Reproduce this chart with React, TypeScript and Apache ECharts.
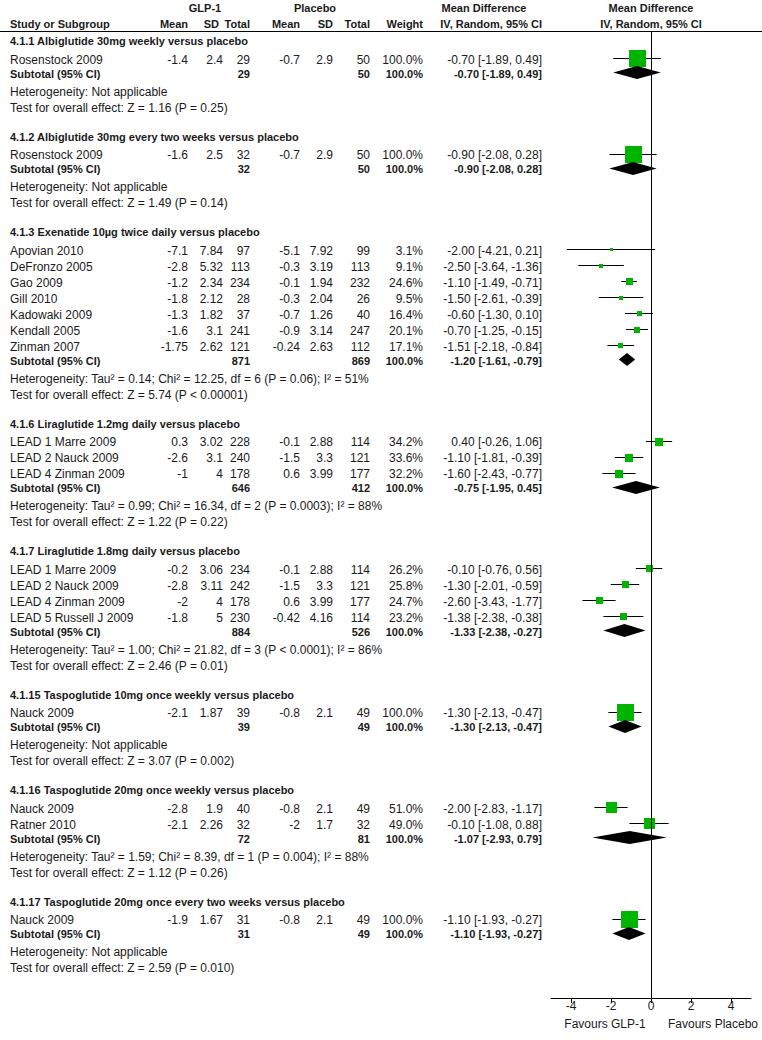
import React, { useEffect, useRef } from "react";
import * as echarts from "echarts";

const groupTitles = [
  "4.1.1 Albiglutide 30mg weekly versus placebo",
  "4.1.2 Albiglutide 30mg every two weeks versus placebo",
  "4.1.3 Exenatide 10µg twice daily versus placebo",
  "4.1.6 Liraglutide 1.2mg daily versus placebo",
  "4.1.7 Liraglutide 1.8mg daily versus placebo",
  "4.1.15 Taspoglutide 10mg once weekly versus placebo",
  "4.1.16 Taspoglutide 20mg once weekly versus placebo",
  "4.1.17 Taspoglutide 20mg once every two weeks versus placebo",
];
const hetTexts = [
  "Heterogeneity: Not applicable",
  "Heterogeneity: Not applicable",
  "Heterogeneity: Tau² = 0.14; Chi² = 12.25, df = 6 (P = 0.06); I² = 51%",
  "Heterogeneity: Tau² = 0.99; Chi² = 16.34, df = 2 (P = 0.0003); I² = 88%",
  "Heterogeneity: Tau² = 1.00; Chi² = 21.82, df = 3 (P < 0.0001); I² = 86%",
  "Heterogeneity: Not applicable",
  "Heterogeneity: Tau² = 1.59; Chi² = 8.39, df = 1 (P = 0.004); I² = 88%",
  "Heterogeneity: Not applicable",
];
const effectTexts = [
  "Test for overall effect: Z = 1.16 (P = 0.25)",
  "Test for overall effect: Z = 1.49 (P = 0.14)",
  "Test for overall effect: Z = 5.74 (P < 0.00001)",
  "Test for overall effect: Z = 1.22 (P = 0.22)",
  "Test for overall effect: Z = 2.46 (P = 0.01)",
  "Test for overall effect: Z = 3.07 (P = 0.002)",
  "Test for overall effect: Z = 1.12 (P = 0.26)",
  "Test for overall effect: Z = 2.59 (P = 0.010)",
];
const studyGroup = [0, 1, 2, 2, 2, 2, 2, 2, 2, 3, 3, 3, 4, 4, 4, 4, 5, 6, 6, 7];
const studyNames = [
  "Rosenstock 2009", "Rosenstock 2009", "Apovian 2010", "DeFronzo 2005", "Gao 2009", "Gill 2010",
  "Kadowaki 2009", "Kendall 2005", "Zinman 2007", "LEAD 1 Marre 2009", "LEAD 2 Nauck 2009",
  "LEAD 4 Zinman 2009", "LEAD 1 Marre 2009", "LEAD 2 Nauck 2009", "LEAD 4 Zinman 2009",
  "LEAD 5 Russell J 2009", "Nauck 2009", "Nauck 2009", "Ratner 2010", "Nauck 2009",
];
const glpMean = [-1.4, -1.6, -7.1, -2.8, -1.2, -1.8, -1.3, -1.6, -1.75, 0.3, -2.6, -1, -0.2, -2.8, -2, -1.8, -2.1, -2.8, -2.1, -1.9];
const glpSD = [2.4, 2.5, 7.84, 5.32, 2.34, 2.12, 1.82, 3.1, 2.62, 3.02, 3.1, 4, 3.06, 3.11, 4, 5, 1.87, 1.9, 2.26, 1.67];
const glpN = [29, 32, 97, 113, 234, 28, 37, 241, 121, 228, 240, 178, 234, 242, 178, 230, 39, 40, 32, 31];
const plaMean = [-0.7, -0.7, -5.1, -0.3, -0.1, -0.3, -0.7, -0.9, -0.24, -0.1, -1.5, 0.6, -0.1, -1.5, 0.6, -0.42, -0.8, -0.8, -2, -0.8];
const plaSD = [2.9, 2.9, 7.92, 3.19, 1.94, 2.04, 1.26, 3.14, 2.63, 2.88, 3.3, 3.99, 2.88, 3.3, 3.99, 4.16, 2.1, 2.1, 1.7, 2.1];
const plaN = [50, 50, 99, 113, 232, 26, 40, 247, 112, 114, 121, 177, 114, 121, 177, 114, 49, 49, 32, 49];
const studyWeight = [100, 100, 3.1, 9.1, 24.6, 9.5, 16.4, 20.1, 17.1, 34.2, 33.6, 32.2, 26.2, 25.8, 24.7, 23.2, 100, 51, 49, 100];
const studyMD = [-0.7, -0.9, -2, -2.5, -1.1, -1.5, -0.6, -0.7, -1.51, 0.4, -1.1, -1.6, -0.1, -1.3, -2.6, -1.38, -1.3, -2, -0.1, -1.1];
const studyLow = [-1.89, -2.08, -4.21, -3.64, -1.49, -2.61, -1.3, -1.25, -2.18, -0.26, -1.81, -2.43, -0.76, -2.01, -3.43, -2.38, -2.13, -2.83, -1.08, -1.93];
const studyHigh = [0.49, 0.28, 0.21, -1.36, -0.71, -0.39, 0.1, -0.15, -0.84, 1.06, -0.39, -0.77, 0.56, -0.59, -1.77, -0.38, -0.47, -1.17, 0.88, -0.27];
const subGlpN = [29, 32, 871, 646, 884, 39, 72, 31];
const subPlaN = [50, 50, 869, 412, 526, 49, 81, 49];
const subMD = [-0.7, -0.9, -1.2, -0.75, -1.33, -1.3, -1.07, -1.1];
const subLow = [-1.89, -2.08, -1.61, -1.95, -2.38, -2.13, -2.93, -1.93];
const subHigh = [0.49, 0.28, -0.79, 0.45, -0.27, -0.47, 0.79, -0.27];
const xTicks = [-4, -2, 0, 2, 4];

const FONT = "'Liberation Sans', Arial, sans-serif";
const REG = `12px ${FONT}`;
const BOLD = `bold 11px ${FONT}`;
const TXT = "#1a1a1a";
const GREEN = "#00B400";

function fmt2(v: number) {
  return v.toFixed(2);
}
function ciText(m: number, lo: number, hi: number) {
  return `${fmt2(m)} [${fmt2(lo)}, ${fmt2(hi)}]`;
}

function text(t: string, x: number, y: number, align: string, bold = false) {
  return {
    type: "text",
    x,
    y,
    silent: true,
    style: {
      text: t,
      font: bold ? BOLD : REG,
      fill: TXT,
      align,
      textAlign: align,
      verticalAlign: "middle",
      textVerticalAlign: "middle",
    },
  };
}

export default function App() {
  const ref = useRef<HTMLDivElement>(null);
  useEffect(() => {
    const chart = echarts.init(ref.current!, null, { renderer: "svg" });

    // layout of rows
    const H0 = 41, H2S = 18.5, S2S = 16, S2SUB = 14, SUB2HET = 18, HET2TEST = 16, TEST2HEAD = 29;
    const studyY: number[] = [];
    const headY: number[] = [];
    const subY: number[] = [];
    const hetY: number[] = [];
    const testY: number[] = [];
    let y = H0;
    for (let g = 0; g < groupTitles.length; g++) {
      headY.push(y);
      let sy = y + H2S;
      let last = sy;
      studyGroup.forEach((gg, i) => {
        if (gg === g) {
          studyY[i] = sy;
          last = sy;
          sy += S2S;
        }
      });
      const s = last + S2SUB;
      subY.push(s);
      hetY.push(s + SUB2HET);
      testY.push(s + SUB2HET + HET2TEST);
      y = s + SUB2HET + HET2TEST + TEST2HEAD;
    }
    const crisp = (v: number) => Math.floor(v) + 0.5;

    const colRight = { gm: 188, gs: 223, gn: 250, pm: 300, ps: 333, pn: 370, w: 423, ci: 542 };
    const graphics: any[] = [];
    // headers
    graphics.push(text("GLP-1", 205, 8, "center", true));
    graphics.push(text("Placebo", 315, 8, "center", true));
    graphics.push(text("Mean Difference", 484, 8, "center", true));
    graphics.push(text("Mean Difference", 651, 8, "center", true));
    graphics.push(text("Study or Subgroup", 10, 24, "left", true));
    graphics.push(text("Mean", colRight.gm, 24, "right", true));
    graphics.push(text("SD", 219, 24, "right", true));
    graphics.push(text("Total", colRight.gn, 24, "right", true));
    graphics.push(text("Mean", colRight.pm, 24, "right", true));
    graphics.push(text("SD", colRight.ps, 24, "right", true));
    graphics.push(text("Total", colRight.pn, 24, "right", true));
    graphics.push(text("Weight", colRight.w, 24, "right", true));
    graphics.push(text("IV, Random, 95% CI", colRight.ci, 24, "right", true));
    graphics.push(text("IV, Random, 95% CI", 651, 24, "center", true));
    graphics.push({
      type: "line",
      silent: true,
      shape: { x1: 0, y1: 31.5, x2: 762, y2: 31.5 },
      style: { stroke: "#000", lineWidth: 1 },
    });

    for (let g = 0; g < groupTitles.length; g++) {
      graphics.push(text(groupTitles[g], 10, headY[g], "left", true));
      graphics.push(text("Subtotal (95% CI)", 10, subY[g], "left", true));
      graphics.push(text(String(subGlpN[g]), colRight.gn, subY[g], "right", true));
      graphics.push(text(String(subPlaN[g]), colRight.pn, subY[g], "right", true));
      graphics.push(text("100.0%", colRight.w, subY[g], "right", true));
      graphics.push(text(ciText(subMD[g], subLow[g], subHigh[g]), colRight.ci, subY[g], "right", true));
      graphics.push(text(hetTexts[g], 10, hetY[g], "left"));
      graphics.push(text(effectTexts[g], 10, testY[g], "left"));
    }
    studyNames.forEach((n, i) => {
      const yy = studyY[i];
      graphics.push(text(n, 10, yy, "left"));
      graphics.push(text(String(glpMean[i]), colRight.gm, yy, "right"));
      graphics.push(text(String(glpSD[i]), colRight.gs, yy, "right"));
      graphics.push(text(String(glpN[i]), colRight.gn, yy, "right"));
      graphics.push(text(String(plaMean[i]), colRight.pm, yy, "right"));
      graphics.push(text(String(plaSD[i]), colRight.ps, yy, "right"));
      graphics.push(text(String(plaN[i]), colRight.pn, yy, "right"));
      graphics.push(text(studyWeight[i].toFixed(1) + "%", colRight.w, yy, "right"));
      graphics.push(text(ciText(studyMD[i], studyLow[i], studyHigh[i]), colRight.ci, yy, "right"));
    });
    graphics.push(text("Favours GLP-1", 605, 1024, "center"));
    graphics.push(text("Favours Placebo", 713, 1024, "center"));

    const studyData = studyNames.map((_, i) => [
      studyLow[i],
      studyHigh[i],
      studyMD[i],
      crisp(studyY[i] - 1),
      Math.max(3, Math.round(17 * Math.pow(studyWeight[i] / 100, 0.65))),
    ]);
    const subData = groupTitles.map((_, g) => [subLow[g], subHigh[g], subMD[g], crisp(subY[g] - 1)]);

    const option: any = {
      animation: false,
      backgroundColor: "#fff",
      grid: { left: 551, right: 11, top: 32, bottom: 42 },
      xAxis: {
        type: "value",
        min: -5,
        max: 5,
        axisLine: { show: true, lineStyle: { color: "#000", width: 1 } },
        axisTick: { show: true, length: 5, lineStyle: { color: "#000" }, customValues: xTicks },
        axisLabel: { show: true, customValues: xTicks, color: TXT, fontSize: 12, fontFamily: FONT, margin: 2 },
        splitLine: { show: false },
      },
      yAxis: {
        type: "value",
        min: 32,
        max: 998,
        inverse: true,
        show: false,
        splitLine: { show: false },
      },
      series: [
        {
          type: "custom",
          encode: { x: [0, 1, 2], y: 3 },
          data: studyData,
          z: 3,
          renderItem: (_p: any, api: any) => {
            const yv = api.value(3);
            const lo = api.coord([api.value(0), yv]);
            const hi = api.coord([api.value(1), yv]);
            const c = api.coord([api.value(2), yv]);
            const s = api.value(4);
            return {
              type: "group",
              children: [
                { type: "line", shape: { x1: lo[0], y1: lo[1], x2: hi[0], y2: hi[1] }, style: { stroke: "#000", lineWidth: 1 } },
                { type: "rect", shape: { x: Math.round(c[0] - s / 2), y: Math.round(c[1] - s / 2), width: s, height: s }, style: { fill: GREEN } },
              ],
            };
          },
        },
        {
          type: "custom",
          encode: { x: [0, 1, 2], y: 3 },
          data: subData,
          z: 3,
          renderItem: (_p: any, api: any) => {
            const yv = api.value(3);
            const lo = api.coord([api.value(0), yv]);
            const hi = api.coord([api.value(1), yv]);
            const c = api.coord([api.value(2), yv]);
            const h = 6.5;
            return {
              type: "polygon",
              shape: { points: [[lo[0], lo[1]], [c[0], c[1] - h], [hi[0], hi[1]], [c[0], c[1] + h]] },
              style: { fill: "#000" },
            };
          },
          markLine: {
            silent: true,
            symbol: "none",
            label: { show: false },
            lineStyle: { color: "#000", width: 1, type: "solid" },
            data: [{ xAxis: 0 }],
          },
        },
      ],
      graphic: graphics,
    };
    chart.setOption(option);
    return () => chart.dispose();
  }, []);
  return (
    <div
      ref={ref}
      style={{ position: "absolute", left: 0, top: 0, width: 762, height: 1040, background: "#fff" }}
    />
  );
}
